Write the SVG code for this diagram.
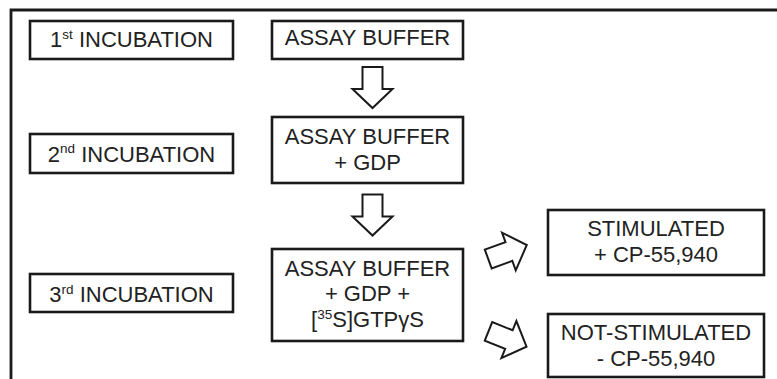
<svg xmlns="http://www.w3.org/2000/svg" width="777" height="379" viewBox="0 0 777 379">
  <style>
    .box { fill: #ffffff; stroke: #1a1a1a; stroke-width: 2.6; }
    .frame { fill: none; stroke: #1a1a1a; stroke-width: 2.8; }
    .arrow { fill: #ffffff; stroke: #1a1a1a; stroke-width: 2; stroke-linejoin: miter; }
    text { font-family: "Liberation Sans", Arial, Helvetica, sans-serif; font-size: 22px; fill: #222222; text-anchor: middle; }
    .sup { font-size: 13.5px; }
  </style>
  <defs>
    <path id="blockArrow" d="M-10,-20.5 H10 V1.5 H20 L0,20.5 L-20,1.5 H-10 Z"/>
  </defs>
  <rect width="777" height="379" fill="#ffffff"/>
  <path class="frame" d="M11,381 V10 H779"/>

  <g id="connectors">
    <use href="#blockArrow" class="arrow" transform="translate(372.5,87.5)"/>
    <use href="#blockArrow" class="arrow" transform="translate(372.5,215)"/>
    <use href="#blockArrow" class="arrow" transform="translate(507.5,252) rotate(-110)"/>
    <use href="#blockArrow" class="arrow" transform="translate(507.5,339) rotate(-68)"/>
  </g>

  <g id="inc1">
    <rect class="box" x="30" y="21" width="203" height="38"/>
    <text x="131.5" y="47.3">1<tspan class="sup" dy="-8.5">st</tspan><tspan dy="8.5"> INCUBATION</tspan></text>
  </g>
  <g id="inc2">
    <rect class="box" x="30" y="134" width="203" height="39"/>
    <text x="131.5" y="161.7">2<tspan class="sup" dy="-8.5">nd</tspan><tspan dy="8.5"> INCUBATION</tspan></text>
  </g>
  <g id="inc3">
    <rect class="box" x="30" y="274" width="203" height="38"/>
    <text x="131.5" y="302.3">3<tspan class="sup" dy="-8.5">rd</tspan><tspan dy="8.5"> INCUBATION</tspan></text>
  </g>

  <g id="buffer1">
    <rect class="box" x="272" y="21" width="191" height="38"/>
    <text x="367.5" y="44.5">ASSAY BUFFER</text>
  </g>
  <g id="buffer2">
    <rect class="box" x="272" y="117" width="191" height="66"/>
    <text x="367.5" y="143.5">ASSAY BUFFER</text>
    <text x="367.5" y="170">+ GDP</text>
  </g>
  <g id="buffer3">
    <rect class="box" x="272" y="249" width="191" height="92"/>
    <text x="367.5" y="275.5">ASSAY BUFFER</text>
    <text x="367.5" y="301.3">+ GDP +</text>
    <text x="367.5" y="327">[<tspan class="sup" dy="-8.5">35</tspan><tspan dy="8.5">S]GTPγS</tspan></text>
  </g>

  <g id="stimulated">
    <rect class="box" x="548" y="210" width="216" height="65"/>
    <text x="656" y="235.5">STIMULATED</text>
    <text x="656" y="262">+ CP-55,940</text>
  </g>
  <g id="notstimulated">
    <rect class="box" x="548" y="314" width="216" height="63"/>
    <text x="656" y="339.5">NOT-STIMULATED</text>
    <text x="656" y="366">- CP-55,940</text>
  </g>
</svg>
